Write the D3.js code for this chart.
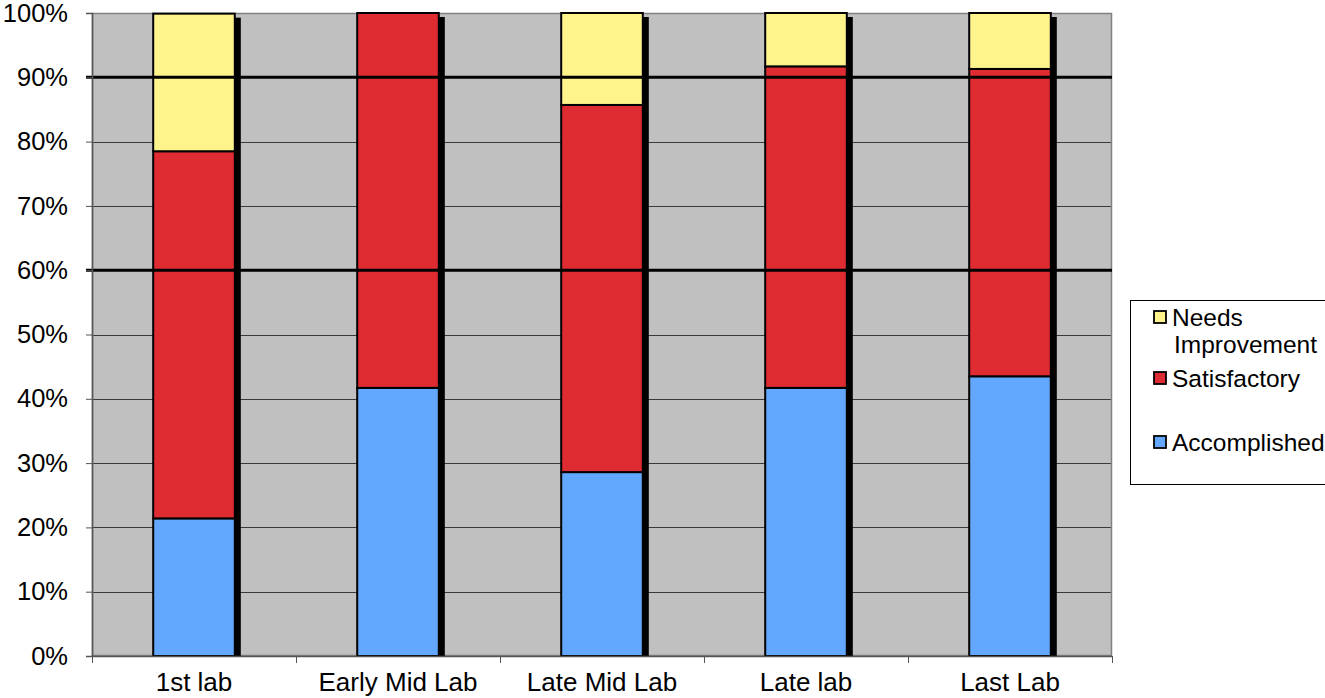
<!DOCTYPE html>
<html>
<head>
<meta charset="utf-8">
<script src="https://cdn.jsdelivr.net/npm/d3@7"></script>
<style>
  html, body { margin: 0; padding: 0; background: #ffffff; }
  svg { display: block; font-family: "Liberation Sans", Arial, sans-serif; }
</style>
</head>
<body>
<svg id="chart" width="1325" height="698"></svg>
<script>
// Lab stages and the share of students at each rating (percent)
const categories = ["1st lab", "Early Mid Lab", "Late Mid Lab", "Late lab", "Last Lab"];
const accomplished = [21.4, 41.7, 28.6, 41.7, 43.5];
const satisfactory = [57.1, 58.3, 57.1, 50.0, 47.8];
const needsImprovement = [21.4, 0, 14.3, 8.3, 8.7];
const yTicks = [0, 10, 20, 30, 40, 50, 60, 70, 80, 90, 100];
const referenceLines = [60, 90];

const seriesNames = ["Accomplished", "Satisfactory", "Needs Improvement"];
const seriesValues = [accomplished, satisfactory, needsImprovement];
const colors = { "Accomplished": "#62a8ff", "Satisfactory": "#df2b32", "Needs Improvement": "#fff38c" };

const svg = d3.select("#chart");
const plot = { left: 92, right: 1112, top: 13, bottom: 656 };

const x = d3.scaleBand().domain(categories).range([plot.left, plot.right]).paddingInner(0.6).paddingOuter(0.3);
const xOuter = d3.scaleBand().domain(categories).range([plot.left, plot.right]);
const y = d3.scaleLinear().domain([0, 100]).range([plot.bottom, plot.top]);

const rows = categories.map((c, i) => {
  const r = { category: c };
  seriesNames.forEach((s, k) => { r[s] = seriesValues[k][i]; });
  return r;
});
const stacked = d3.stack().keys(seriesNames)(rows);

// plot background
svg.append("rect")
  .attr("x", plot.left).attr("y", plot.top)
  .attr("width", plot.right - plot.left).attr("height", plot.bottom - plot.top)
  .attr("fill", "#c0c0c0");

// horizontal gridlines
svg.append("g").selectAll("line").data(yTicks.slice(1, -1)).join("line")
  .attr("x1", plot.left).attr("x2", plot.right)
  .attr("y1", d => Math.round(y(d)) + 0.5).attr("y2", d => Math.round(y(d)) + 0.5)
  .attr("stroke", "#3a3a3a").attr("stroke-width", 1);

// plot frame
svg.append("rect")
  .attr("x", plot.left + 0.5).attr("y", plot.top + 0.5)
  .attr("width", plot.right - plot.left - 1).attr("height", plot.bottom - plot.top - 1)
  .attr("fill", "none").attr("stroke", "#808080").attr("stroke-width", 1.5);

// clip for bar shadows
svg.append("clipPath").attr("id", "plotClip").append("rect")
  .attr("x", plot.left).attr("y", plot.top)
  .attr("width", plot.right - plot.left + 2).attr("height", plot.bottom - plot.top + 1);

// column shadows
const totals = rows.map(r => seriesNames.reduce((a, s) => a + r[s], 0));
svg.append("g").attr("clip-path", "url(#plotClip)").selectAll("rect").data(categories).join("rect")
  .attr("x", d => x(d) + 6).attr("y", (d, i) => y(Math.min(100, totals[i])) + 4)
  .attr("width", x.bandwidth()).attr("height", (d, i) => y(0) - y(Math.min(100, totals[i])))
  .attr("fill", "#000");

// stacked bars
svg.append("g").selectAll("g").data(stacked).join("g")
  .attr("fill", d => colors[d.key])
  .selectAll("rect").data(d => d.filter(p => p[1] - p[0] > 0)).join("rect")
  .attr("x", d => x(d.data.category))
  .attr("y", d => y(Math.min(100, d[1])))
  .attr("width", x.bandwidth())
  .attr("height", d => y(d[0]) - y(Math.min(100, d[1])))
  .attr("stroke", "#000").attr("stroke-width", 2);

// bold reference lines
svg.append("g").selectAll("line").data(referenceLines).join("line")
  .attr("x1", 86).attr("x2", plot.right)
  .attr("y1", d => y(d)).attr("y2", d => y(d))
  .attr("stroke", "#000").attr("stroke-width", 3);

// y axis
const yAxis = d3.axisLeft(y).tickValues(yTicks).tickFormat(d => d + "%").tickSize(6).tickPadding(18);
const gy = svg.append("g").attr("transform", `translate(${plot.left},0)`).call(yAxis);
gy.select(".domain").attr("stroke", "#555").attr("stroke-width", 1.5);
gy.selectAll(".tick line").attr("stroke", "#555");
gy.selectAll(".tick text").attr("fill", "#000").attr("font-size", 25.5)
  .attr("font-family", "'Liberation Sans', Arial, sans-serif");

// x axis: ticks at category boundaries
const boundaries = categories.map(c => xOuter(c)).concat([plot.right]);
svg.append("line").attr("x1", plot.left).attr("x2", plot.right)
  .attr("y1", plot.bottom + 0.5).attr("y2", plot.bottom + 0.5)
  .attr("stroke", "#555").attr("stroke-width", 1.5);
svg.append("g").selectAll("line").data(boundaries).join("line")
  .attr("x1", d => d + 0.5).attr("x2", d => d + 0.5)
  .attr("y1", plot.bottom).attr("y2", plot.bottom + 7)
  .attr("stroke", "#555").attr("stroke-width", 1);
svg.append("g").selectAll("text").data(categories).join("text")
  .attr("x", d => xOuter(d) + xOuter.bandwidth() / 2)
  .attr("y", 691)
  .attr("text-anchor", "middle").attr("font-size", 26).attr("fill", "#000")
  .text(d => d);

// legend
const legend = svg.append("g");
legend.append("rect").attr("x", 1130.5).attr("y", 300.5).attr("width", 200).attr("height", 184)
  .attr("fill", "#fff").attr("stroke", "#000").attr("stroke-width", 1);
const legendItems = [
  { key: "Needs Improvement", lines: ["Needs", "Improvement"], y: 326 },
  { key: "Satisfactory", lines: ["Satisfactory"], y: 387 },
  { key: "Accomplished", lines: ["Accomplished"], y: 451 }
];
legendItems.forEach(it => {
  legend.append("rect").attr("x", 1154).attr("y", it.y - 15).attr("width", 12).attr("height", 12)
    .attr("fill", colors[it.key]).attr("stroke", "#000").attr("stroke-width", 1.8);
  const t = legend.append("text").attr("x", 1172).attr("y", it.y).attr("font-size", 24.5).attr("fill", "#000");
  it.lines.forEach((ln, i) => {
    t.append("tspan").attr("x", i === 0 ? 1172 : 1174).attr("dy", i === 0 ? 0 : 27).text(ln);
  });
});
</script>
</body>
</html>
